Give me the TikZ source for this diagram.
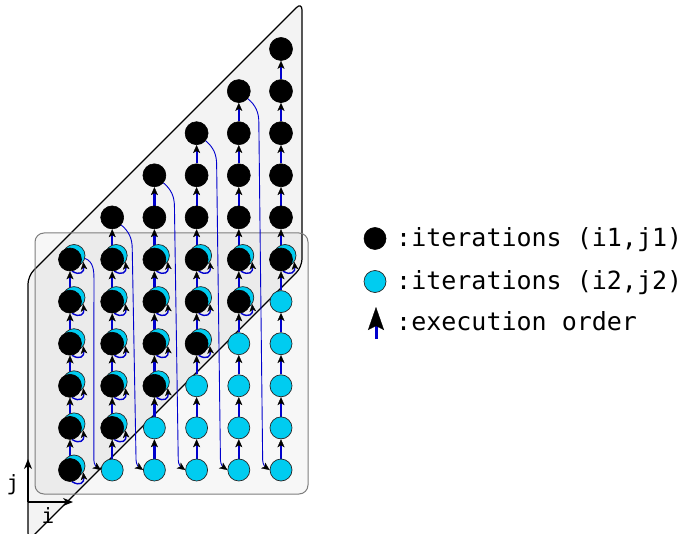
\documentclass[tikz,border=0pt]{standalone}
\usepackage{fontspec}
\newfontfamily\monofont{DejaVu Sans Mono}
\usetikzlibrary{arrows.meta,calc}
\pgfdeclarelayer{back}
\pgfdeclarelayer{mid}
\pgfsetlayers{back,mid,main}
\definecolor{cyanfill}{RGB}{0,204,240}
\definecolor{seqblue}{RGB}{0,0,205}
\definecolor{pgfill}{RGB}{243,243,243}
\definecolor{boxedge}{RGB}{125,125,125}
\begin{document}
\begin{tikzpicture}[x=1pt,y=1pt,
  blk/.style={circle,fill=black,draw=black,line width=0.6pt,minimum size=23pt,inner sep=0pt},
  cyn/.style={circle,fill=cyanfill,draw=black!85,line width=0.7pt,minimum size=22pt,inner sep=0pt},
  stepar/.style={seqblue,line width=2.2pt,-{Stealth[black,length=8pt,width=7pt,inset=2pt,line width=0.3pt]}},
  looparr/.style={seqblue,line width=1.4pt,-{Stealth[black,length=7.5pt,width=6.5pt,inset=2pt,line width=0.3pt]}},
  jump/.style={seqblue,line width=0.9pt,-{Stealth[black,length=8pt,width=7pt,inset=2pt,line width=0.3pt]}},
  axisar/.style={black,line width=1.2pt,-{Stealth[length=10pt,width=8pt,inset=3pt]}},
  lbl/.style={font=\monofont\fontsize{25}{30}\selectfont,inner sep=0pt,anchor=base west},
  axlbl/.style={font=\monofont\fontsize{21}{25}\selectfont,inner sep=0pt}
]
\useasboundingbox (0,0) rectangle (687,-534);
% regions
\begin{pgfonlayer}{back}
\draw[fill=pgfill,line width=1.2pt,rounded corners=8pt]
  (28,-276) -- (302,-2) -- (302,-267) -- (28,-541) -- cycle;
\draw[boxedge,line width=1pt,rounded corners=9pt,fill=black,fill opacity=0.03]
  (35,-233) rectangle (308,-494);
\end{pgfonlayer}
% cyan iterations (i2,j2)
\foreach \c in {0,...,5}{
  \foreach \r in {0,...,5}{
    \pgfmathsetmacro\px{70+42.2*\c}
    \pgfmathsetmacro\py{42.1*\r-470}
    \ifnum\r<\c
      \node[cyn] (m-\c-\r) at (\px,\py) {};
    \else
      \node[cyn] (q-\c-\r) at (\px+4,\py+4) {};
    \fi
  }
}
% black iterations (i1,j1)
\foreach \c in {0,...,5}{
  \foreach \k in {0,...,5}{
    \pgfmathtruncatemacro\rr{\c+\k}
    \pgfmathsetmacro\px{70+42.2*\c}
    \pgfmathsetmacro\py{42.1*\rr-470}
    \node[blk] (m-\c-\rr) at (\px,\py) {};
  }
}
% execution order
\begin{pgfonlayer}{mid}
\foreach \c in {0,...,5}{
  \pgfmathtruncatemacro\ctop{\c+4}
  \foreach \r in {0,...,\ctop}{
    \pgfmathtruncatemacro\rn{\r+1}
    \draw[stepar] (m-\c-\r) -- (m-\c-\rn);
  }
}
\foreach \c in {0,...,5}{
  \foreach \r in {\c,...,5}{
    \draw[looparr] (m-\c-\r.-80) .. controls +(8,-5) and +(1,-10) .. (q-\c-\r.-35);
  }
}
\draw[jump] (q-0-5.-15) to[out=-20,in=90] ++(9,-20) -- ($(m-1-0.west)+(-7,10)$) to[out=-90,in=145] (m-1-0.west);
\foreach \c in {1,...,4}{
  \pgfmathtruncatemacro\ctop{\c+5}
  \pgfmathtruncatemacro\cn{\c+1}
  \draw[jump] (m-\c-\ctop.-40) to[out=-40,in=90] ++(11,-24) -- ($(m-\cn-0.west)+(-7,10)$) to[out=-90,in=145] (m-\cn-0.west);
}
\end{pgfonlayer}
% axes
\coordinate (ax-o) at (28,-502);
\coordinate (ax-j) at (28,-459);
\coordinate (ax-i) at (73,-502);
\draw[axisar] (ax-o) -- (ax-j);
\draw[axisar] (ax-o) -- (ax-i);
\node[axlbl] (lab-j) at (13,-485) {j};
\node[axlbl] (lab-i) at (48,-516) {i};
% legend
\node[blk,minimum size=22pt] (leg-b) at (375,-238.5) {};
\node[cyn] (leg-c) at (375,-281.5) {};
\coordinate (leg-a0) at (376,-339);
\coordinate (leg-a1) at (376,-307);
\draw[seqblue,line width=3pt,-{Stealth[black,length=23pt,width=16pt,inset=4pt,line width=0.3pt]}] (leg-a0) -- (leg-a1);
\node[lbl] (leg-t1) at (396,-247) {:iterations (i1,j1)};
\node[lbl] (leg-t2) at (396,-289) {:iterations (i2,j2)};
\node[lbl] (leg-t3) at (396,-330) {:execution order};
\end{tikzpicture}
\end{document}
